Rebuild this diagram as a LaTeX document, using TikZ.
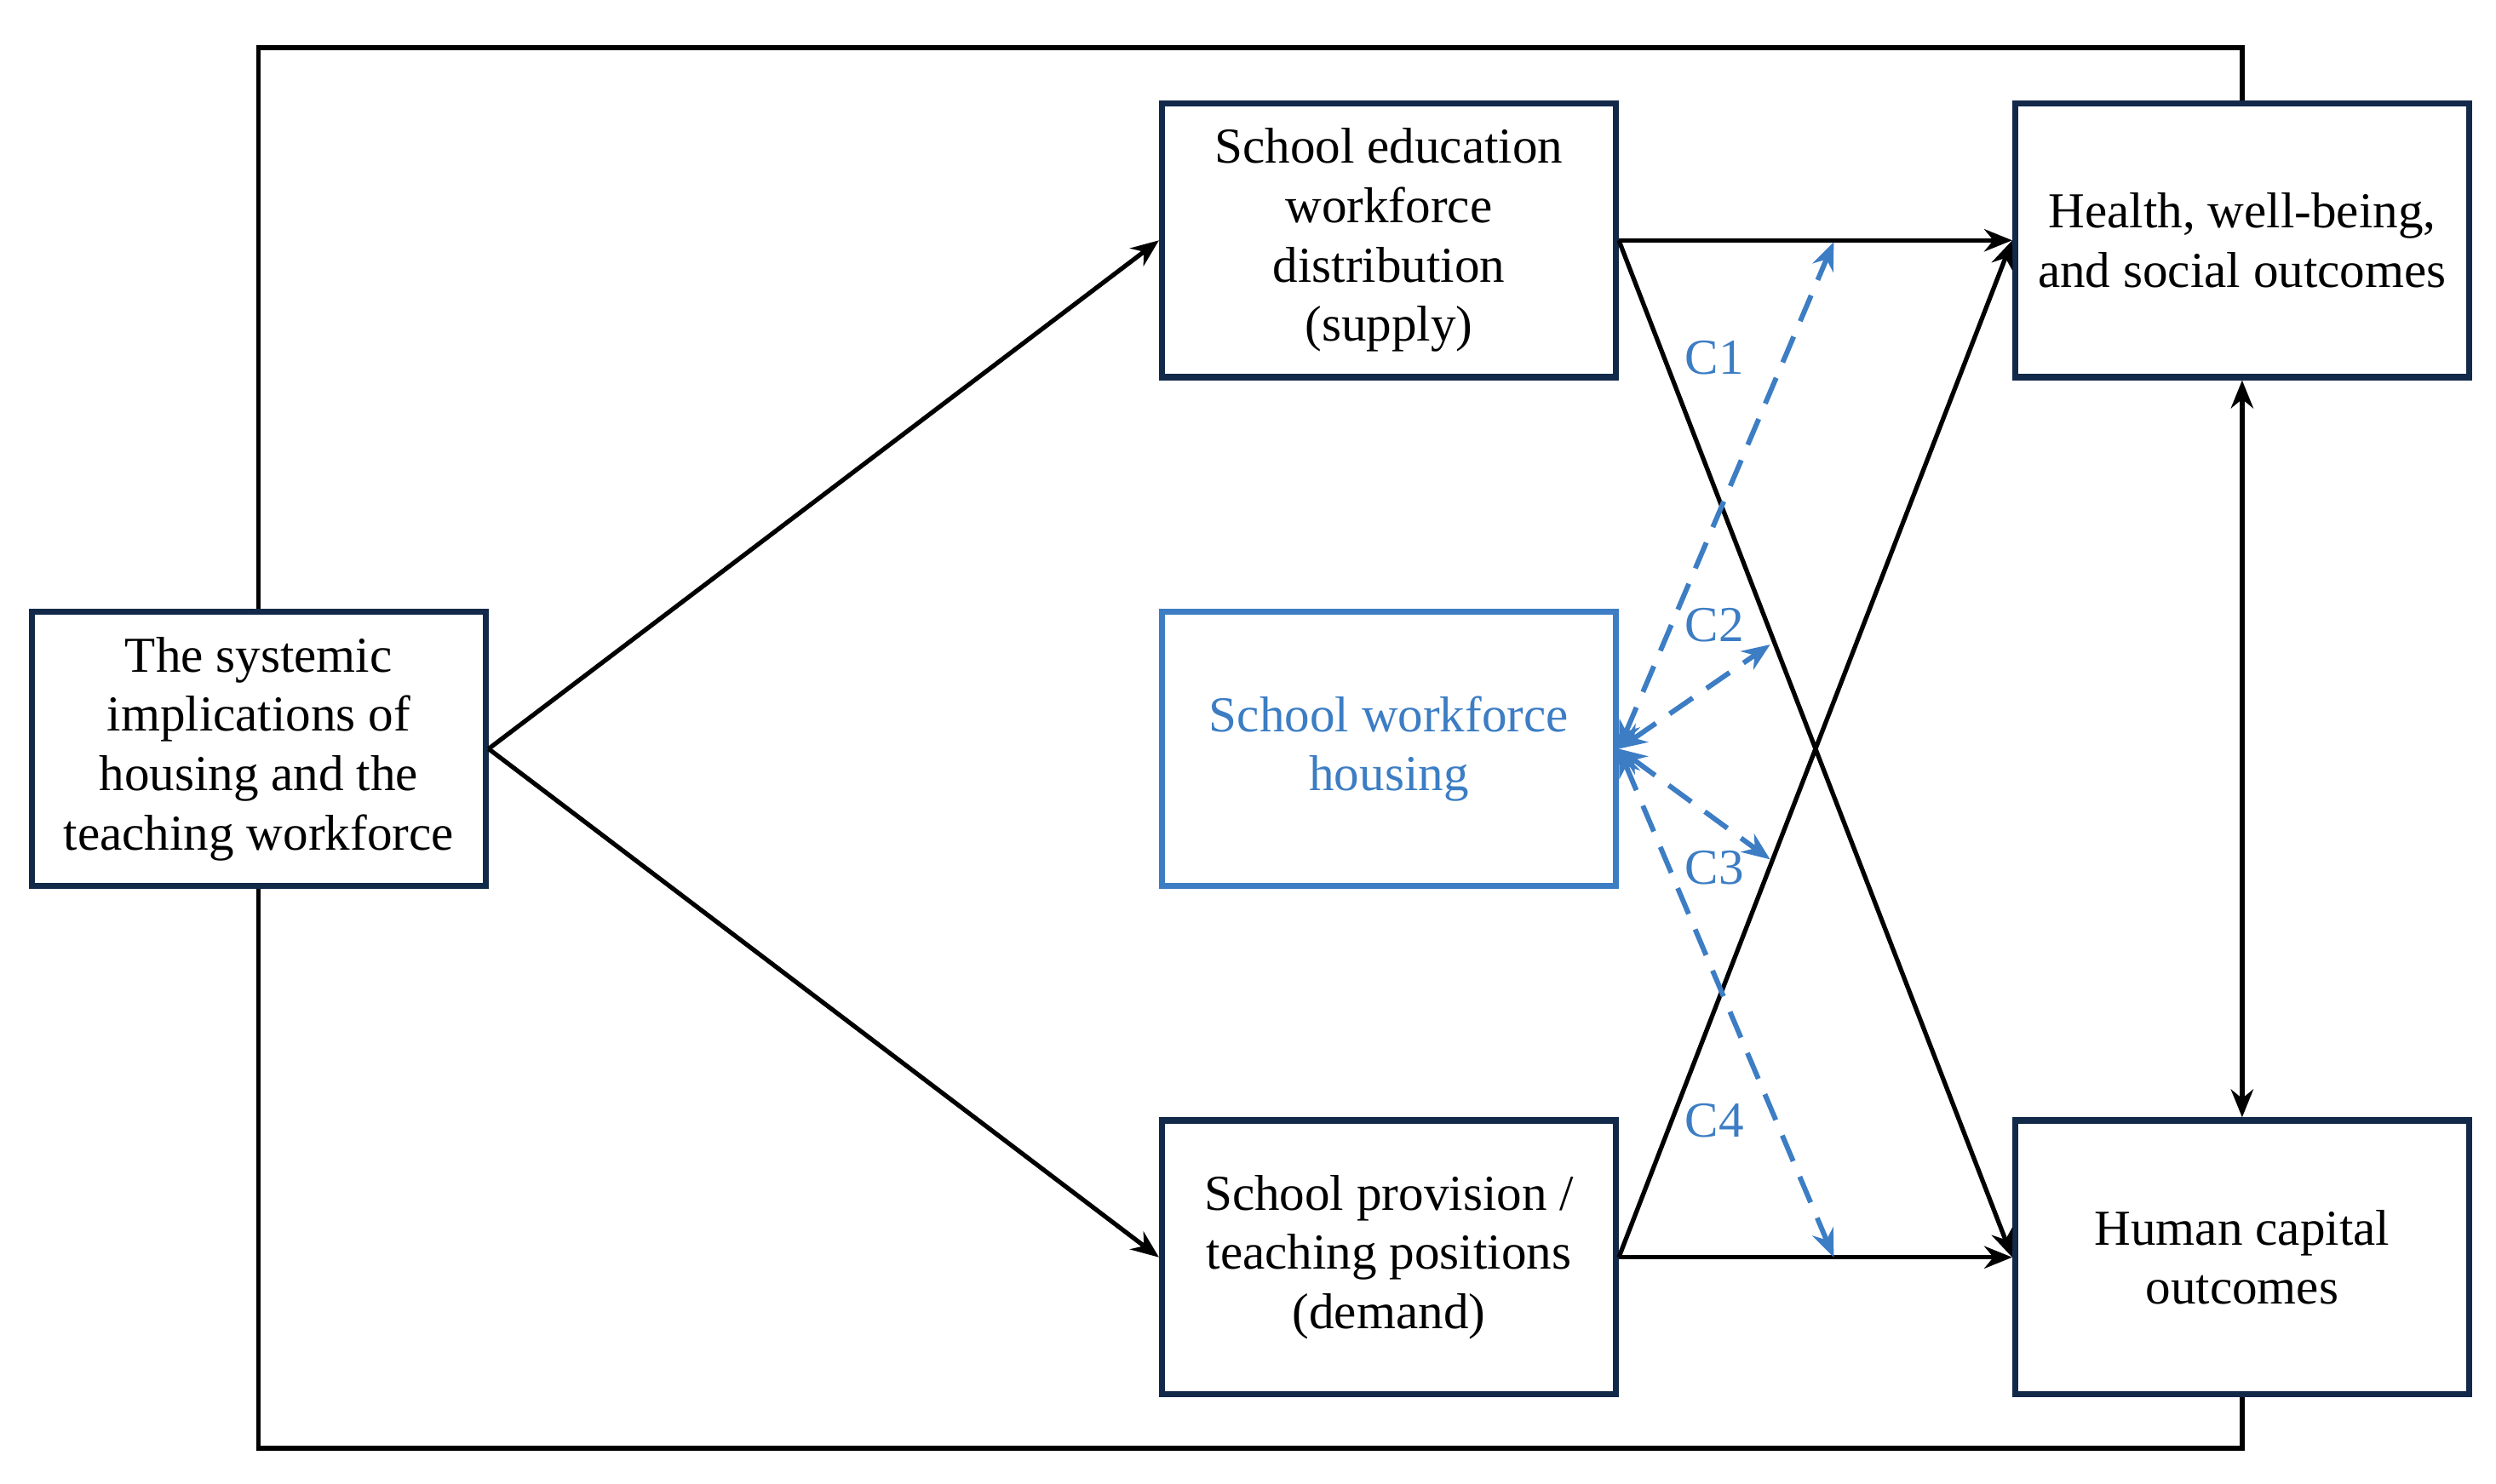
\documentclass[tikz,border=0pt]{standalone}
\usepackage{fontspec}
\setmainfont{Liberation Serif}
\usetikzlibrary{arrows.meta}
\definecolor{navy}{HTML}{12294A}
\definecolor{cblue}{HTML}{3C7DC4}
\begin{document}
\begin{tikzpicture}[x=1cm,y=-1cm,
  box/.style={draw=navy,line width=1.1pt,minimum width=2.85cm,minimum height=1.72cm,align=center,inner sep=2pt,font=\fontsize{9}{10.6}\selectfont},
  ln/.style={line width=0.8pt,black},
  arr/.style={ln,-{Stealth[length=5pt,width=4pt]}},
  darr/.style={cblue,line width=0.9pt,dash pattern=on 5pt off 3pt,{Stealth[length=5pt,width=4pt]}-{Stealth[length=5pt,width=4pt]}},
  lab/.style={text=cblue,font=\fontsize{9}{10.6}\selectfont}]
\useasboundingbox (0,0) rectangle (15.68,9.32);
\draw[ln] (1.625,3.84) -- (1.625,0.30) -- (14.085,0.30) -- (14.085,0.65);
\draw[ln] (1.625,5.57) -- (1.625,9.10) -- (14.085,9.10) -- (14.085,8.76);
\node[box] (L) at (1.625,4.705) {The systemic\\implications of\\housing and the\\teaching workforce};
\node[box] (S) at (8.725,1.51) {School education\\workforce\\distribution\\(supply)};
\node[box,draw=cblue,text=cblue] (H) at (8.725,4.705) {School workforce\\housing};
\node[box] (D) at (8.725,7.90) {School provision /\\teaching positions\\(demand)};
\node[box] (HW) at (14.085,1.51) {Health, well-being,\\and social outcomes};
\node[box] (HC) at (14.085,7.90) {Human capital\\outcomes};
\draw[arr] (L.east) -- (S.west);
\draw[arr] (L.east) -- (D.west);
\draw[arr] (S.east) -- (HW.west);
\draw[arr] (S.east) -- (HC.west);
\draw[arr] (D.east) -- (HW.west);
\draw[arr] (D.east) -- (HC.west);
\draw[ln,{Stealth[length=5pt,width=4pt]}-{Stealth[length=5pt,width=4pt]}] (HW.south) -- (HC.north);
\coordinate (c1) at (11.52,1.52);
\coordinate (c2) at (11.12,4.05);
\coordinate (c3) at (11.12,5.40);
\coordinate (c4) at (11.52,7.90);
\foreach \c in {c1,c2,c3,c4} \draw[darr] (H.east) -- (\c);
\node[lab] (l1) at (10.77,2.25) {C1};
\node[lab] (l2) at (10.77,3.93) {C2};
\node[lab] (l3) at (10.77,5.45) {C3};
\node[lab] (l4) at (10.77,7.04) {C4};
\end{tikzpicture}
\end{document}
